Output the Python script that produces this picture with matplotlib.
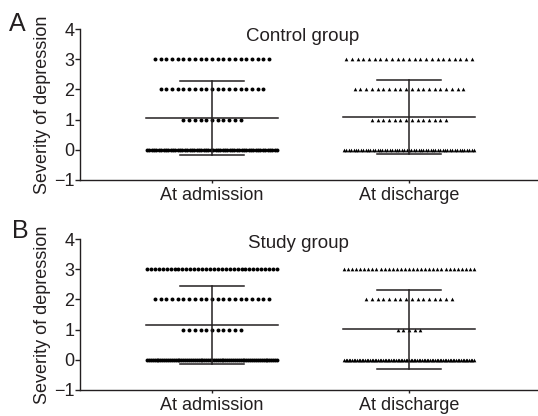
import numpy as np
import matplotlib
matplotlib.use('Agg')
import matplotlib.pyplot as plt

plt.rcParams['font.family'] = ['Liberation Sans', 'DejaVu Sans']

# scores and how many patients had each score (0, 1, 2, 3)
scores = [0, 1, 2, 3]
control_admission = [56, 11, 19, 21]
control_discharge = [55, 14, 20, 23]
study_admission = [69, 11, 21, 34]
study_discharge = [81, 5, 16, 33]

categories = ['At admission', 'At discharge']
panels = [('A', 'Control group', control_admission, control_discharge),
          ('B', 'Study group', study_admission, study_discharge)]


def spread(n, step=0.029, half_width=0.33):
    if n < 2:
        return np.zeros(n)
    step = min(step, 2 * half_width / (n - 1))
    return (np.arange(n) - (n - 1) / 2) * step


fig = plt.figure(figsize=(5.38, 4.16), dpi=100)
layout = [(1 - 180 / 416, 0.46, 3.61, -0.155, 1.033),
          (1 - 390 / 416, 0.44, 3.70, -0.148, 1.050)]
for (letter, title, adm, dis), (bottom, tx, ty, lx, ly) in zip(panels, layout):
    ax = fig.add_axes([80 / 538, bottom, 458 / 538, 151 / 416])
    for pos, counts, marker, size in [(0, adm, 'o', 8), (1, dis, '^', 7)]:
        values = np.repeat(scores, counts)
        for s, n in zip(scores, counts):
            ax.scatter(pos + spread(n), np.full(n, s), marker=marker, s=size,
                       color='black', linewidths=0, zorder=3)
        m = values.mean()
        sd = values.std(ddof=1)
        ax.plot([pos - 0.333, pos + 0.333], [m, m], color='#231f20', lw=1.1, zorder=4)
        ax.plot([pos, pos], [m - sd, m + sd], color='#231f20', lw=1.1, zorder=4)
        for y in (m - sd, m + sd):
            ax.plot([pos - 0.162, pos + 0.162], [y, y], color='#231f20', lw=1.1, zorder=4)
    ax.set_xlim(-0.67, 1.655)
    ax.set_ylim(-1, 4)
    ax.set_yticks([-1, 0, 1, 2, 3, 4])
    ax.set_xticks([0, 1])
    ax.set_xticklabels(categories)
    ax.spines['top'].set_visible(False)
    ax.spines['right'].set_visible(False)
    for sp in ('left', 'bottom'):
        ax.spines[sp].set_linewidth(1.0)
        ax.spines[sp].set_color('#231f20')
    ax.tick_params(axis='y', labelsize=13, length=3.6, pad=0.5, width=1.0,
                   color='#231f20', labelcolor='#231f20')
    ax.tick_params(axis='x', labelsize=13, length=2.5, pad=2.7, width=1.0,
                   color='#231f20', labelcolor='#231f20')
    ax.set_ylabel('Severity of depression', fontsize=13, labelpad=2, color='#231f20')
    ax.text(tx, ty, title, fontsize=13.5, ha='center', va='baseline', color='#231f20')
    ax.text(lx, ly, letter, transform=ax.transAxes, fontsize=18,
            ha='left', va='center', color='#231f20')

plt.savefig('out.png', dpi=100)
